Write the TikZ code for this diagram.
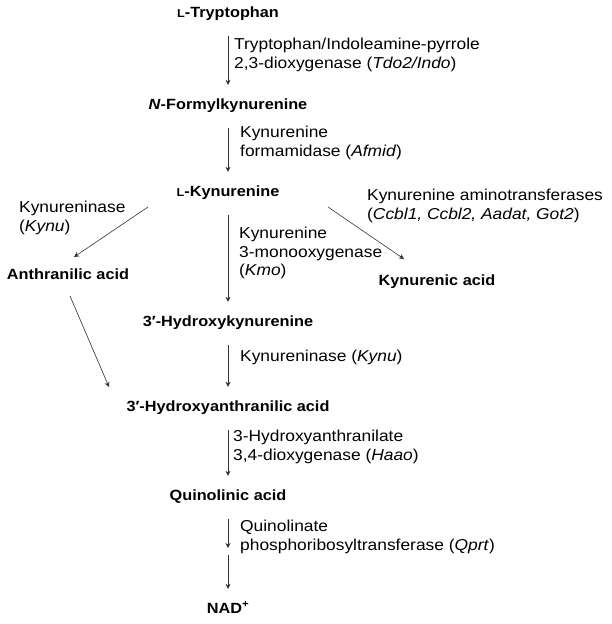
\documentclass[tikz,border=0pt]{standalone}
\usepackage{fontspec}
\setmainfont{Liberation Sans}[FakeStretch=1.1]
\usetikzlibrary{arrows.meta,positioning,calc}

\newcommand{\lsc}{{\fontsize{11.5}{12}\selectfont L}}

\tikzset{
  metab/.style={font=\fontsize{14.8}{16}\selectfont\bfseries, inner sep=0pt, text height=11pt, text depth=3pt},
  enzyme/.style={font=\fontsize{15.8}{18.5}\selectfont, inner sep=0pt, align=left, anchor=west},
  conv/.style={-{Stealth[length=5pt,width=5pt]}, line width=0.6pt, black!80},
}

\begin{document}
\begin{tikzpicture}[x=1pt,y=-1pt]
    \useasboundingbox (0,0) rectangle (611,624);

    % metabolites
    \node[metab] (trp)  at (228,13)  {\lsc-Tryptophan};
    \node[metab] (nfk)  at (228,105) {\textit{N}-Formylkynurenine};
    \node[metab] (kyn)  at (228,192) {\lsc-Kynurenine};
    \node[metab] (anth) at (68,275)  {Anthranilic acid};
    \node[metab] (kyna) at (437,281) {Kynurenic acid};
    \node[metab] (hk)   at (228,322) {3′-Hydroxykynurenine};
    \node[metab] (haa)  at (228,407) {3′-Hydroxyanthranilic acid};
    \node[metab] (quin) at (228,496) {Quinolinic acid};
    \node[metab] (nad)  at (228,609) {NAD\textsuperscript{+}};
    \coordinate (qmid) at (228,551);

    % enzymes
    \node[enzyme] (tdo)   at (234,55)  {Tryptophan/Indoleamine-pyrrole\\2,3-dioxygenase (\textit{Tdo2/Indo})};
    \node[enzyme] (afmid) at (240,143) {Kynurenine\\formamidase (\textit{Afmid})};
    \node[enzyme] (kynuL) at (19,218)  {Kynureninase\\(\textit{Kynu})};
    \node[enzyme] (kat)   at (367,206) {Kynurenine aminotransferases\\(\textit{Ccbl1, Ccbl2, Aadat, Got2})};
    \node[enzyme] (kmo)   at (239,253) {Kynurenine\\3-monooxygenase\\(\textit{Kmo})};
    \node[enzyme] (kynu)  at (240,357) {Kynureninase (\textit{Kynu})};
    \node[enzyme] (haao)  at (233,447) {3-Hydroxyanthranilate\\3,4-dioxygenase (\textit{Haao})};
    \node[enzyme] (qprt)  at (240,537) {Quinolinate\\phosphoribosyltransferase (\textit{Qprt})};

    % main route
    \draw[conv, shorten <=16pt, shorten >=13pt] (trp) -- (nfk);
    \draw[conv, shorten <=16pt, shorten >=13pt] (nfk) -- (kyn);
    \draw[conv, shorten <=16pt, shorten >=13pt] (kyn) -- (hk);
    \draw[conv, shorten <=16pt, shorten >=13pt] (hk) -- (haa);
    \draw[conv, shorten <=16pt, shorten >=13pt] (haa) -- (quin);
    \draw[conv, shorten <=16pt, shorten >=3pt] (quin) -- (qmid);
    \draw[conv, shorten <=4pt, shorten >=13pt] (qmid) -- (nad);

    % side branches
    \draw[conv] ($(kyn)+(-80,15)$) -- ($(anth)+(6,-18)$);
    \draw[conv] ($(kyn)+(100,15)$) -- ($(kyna)+(-33,-22)$);
    \draw[conv] ($(anth)+(2,21)$) -- ($(haa)+(-119,-20)$);
\end{tikzpicture}
\end{document}
